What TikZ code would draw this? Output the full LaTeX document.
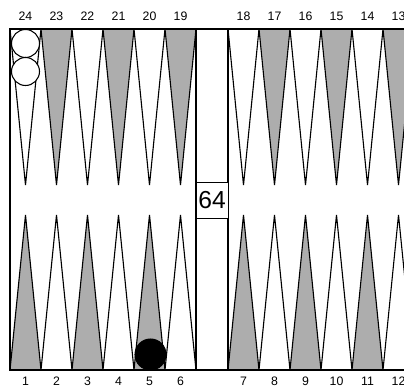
\documentclass[tikz,border=0pt]{standalone}
\usepackage{fontspec}
\setmainfont{Liberation Sans}
\begin{document}
\begin{tikzpicture}[
  x=0.03cm, y=-0.03cm,
  point/.style={draw, line width=0.95pt, line join=miter},
  num/.style={font=\fontsize{10.5}{12}\selectfont, inner sep=0pt},
  checker/.style={circle, draw, line width=0.9pt, minimum size=0.84cm, inner sep=0pt},
  cubebox/.style={draw, fill=white, line width=0.8pt, minimum width=0.96cm, minimum height=1.08cm, inner sep=0pt, font=\fontsize{21}{21}\selectfont}
]
\useasboundingbox (0,0) rectangle (404,389);
\clip (0,0) rectangle (404,389);
\fill[white] (0,0) rectangle (404,389);
% points, left and right half
\foreach \j in {0,...,5} {
  \pgfmathsetmacro{\xa}{10+31*\j}
  \pgfmathsetmacro{\xb}{228+31*\j}
  \pgfmathtruncatemacro{\odd}{mod(\j,2)}
  \ifnum\odd=1 \def\topfill{black!32}\def\botfill{white}\else\def\topfill{white}\def\botfill{black!32}\fi
  \draw[point, fill=\topfill] (\xa,29) -- (\xa+15.5,185) -- (\xa+31,29);
  \draw[point, fill=\topfill] (\xb,29) -- (\xb+15.5,185) -- (\xb+31,29);
  \draw[point, fill=\botfill] (\xa,370) -- (\xa+15.5,215) -- (\xa+31,370);
  \draw[point, fill=\botfill] (\xb,370) -- (\xb+15.5,215) -- (\xb+31,370);
  \pgfmathtruncatemacro{\ntl}{24-\j}
  \pgfmathtruncatemacro{\ntr}{18-\j}
  \pgfmathtruncatemacro{\nbl}{1+\j}
  \pgfmathtruncatemacro{\nbr}{7+\j}
  \node[num] (lab\ntl) at (\xa+15.5,16) {\ntl};
  \node[num] (lab\ntr) at (\xb+15.5,16) {\ntr};
  \node[num] (lab\nbl) at (\xa+15.5,381) {\nbl};
  \node[num] (lab\nbr) at (\xb+15.5,381) {\nbr};
}
% board frame and bar
\draw[line width=1pt] (420,29) -- (10,29) -- (10,370) -- (420,370);
\draw[line width=1pt] (196,29) -- (196,370);
\draw[line width=1pt] (228,29) -- (228,370);
% checkers
\node[checker, fill=white] (white1) at (25.5,43.5) {};
\node[checker, fill=white] (white2) at (25.5,71.5) {};
\node[checker, fill=black, minimum size=0.93cm] (black1) at (150.5,354.5) {};
% doubling cube
\node[cubebox] (cube) at (212,200) {64};
\end{tikzpicture}
\end{document}
